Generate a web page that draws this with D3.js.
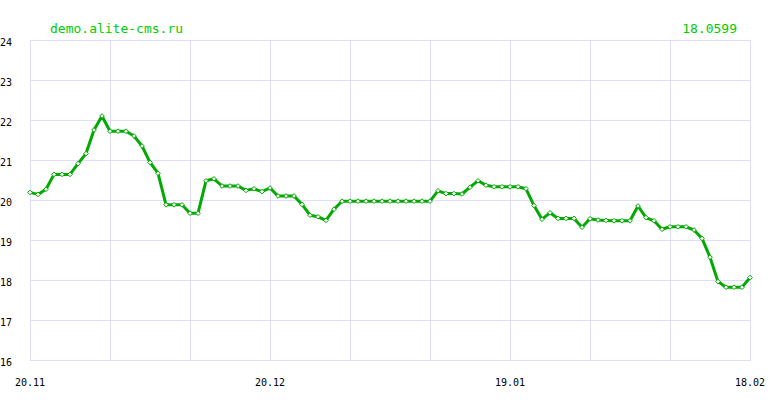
<!DOCTYPE html>
<html>
<head>
<meta charset="utf-8">
<script src="https://cdn.jsdelivr.net/npm/d3@7/dist/d3.min.js"></script>
<style>
    body { margin: 0; background: #fff; }
    svg text { font-family: "DejaVu Sans Mono", monospace; }
    .grid line { stroke: #e0dcff; stroke-width: 1; shape-rendering: crispEdges; }
    .axis text { fill: #000; font-size: 10px; }
    .title { fill: #00cc00; font-size: 13px; }
</style>
</head>
<body>
<div id="chart"></div>
<script>

var siteName = "demo.alite-cms.ru";
var lastValue = "18.0599";

// 20.11 .. 18.02, one point per day
var startDate = new Date(2023, 10, 20);
var values = [
    20.19, 20.14, 20.27, 20.64, 20.64, 20.64, 20.91, 21.16, 21.75, 22.10,
    21.72, 21.72, 21.72, 21.60, 21.35, 20.94, 20.67, 19.88, 19.88, 19.88,
    19.67, 19.67, 20.48, 20.53, 20.35, 20.35, 20.35, 20.24, 20.28, 20.21,
    20.30, 20.10, 20.10, 20.10, 19.89, 19.62, 19.58, 19.49, 19.77, 19.97,
    19.97, 19.97, 19.97, 19.97, 19.97, 19.97, 19.97, 19.97, 19.97, 19.97,
    19.97, 20.23, 20.16, 20.16, 20.15, 20.32, 20.48, 20.37, 20.33, 20.33,
    20.33, 20.33, 20.28, 19.86, 19.52, 19.68, 19.54, 19.54, 19.54, 19.32,
    19.53, 19.50, 19.49, 19.48, 19.48, 19.48, 19.85, 19.56, 19.48, 19.27,
    19.33, 19.33, 19.33, 19.25, 19.04, 18.57, 17.96, 17.82, 17.82, 17.82,
    18.06
];
var yTicks = [16, 17, 18, 19, 20, 21, 22, 23, 24];
var xLabels = ["20.11", "20.12", "19.01", "18.02"];

var width = 780, height = 400;
var margin = {top: 40, right: 30, bottom: 40, left: 30};

var data = values.map(function(v, i) {
    var d = new Date(startDate);
    d.setDate(d.getDate() + i);
    return {x: d, y: v};
});

var x = d3.scaleTime()
    .domain(d3.extent(data, function(d) { return d.x; }))
    .range([margin.left, width - margin.right]);

var y = d3.scaleLinear()
    .domain([16, 24])
    .range([height - margin.bottom, margin.top]);

var svg = d3.select("#chart").append("svg")
    .attr("width", width)
    .attr("height", height);

// grid: vertical line every 10 days
var gridDays = d3.range(0, values.length, 10).map(function(i) { return data[i].x; });

var grid = svg.append("g").attr("class", "grid");
grid.selectAll("line.v")
    .data(gridDays)
    .enter().append("line")
    .attr("class", "v")
    .attr("x1", function(d) { return Math.round(x(d)) + 0.5; })
    .attr("x2", function(d) { return Math.round(x(d)) + 0.5; })
    .attr("y1", y(24))
    .attr("y2", y(16));

grid.selectAll("line.h")
    .data(yTicks)
    .enter().append("line")
    .attr("class", "h")
    .attr("x1", x.range()[0])
    .attr("x2", x.range()[1] + 1)
    .attr("y1", function(d) { return y(d) + 0.5; })
    .attr("y2", function(d) { return y(d) + 0.5; });

// y labels
var axis = svg.append("g").attr("class", "axis");
axis.selectAll("text.y")
    .data(yTicks)
    .enter().append("text")
    .attr("class", "y")
    .attr("x", 0)
    .attr("y", function(d) { return y(d) + 6; })
    .text(function(d) { return d; });

// x labels, every 30 days
axis.selectAll("text.x")
    .data(xLabels)
    .enter().append("text")
    .attr("class", "x")
    .attr("x", function(d, i) { return x(data[i * 30].x); })
    .attr("y", 386)
    .attr("text-anchor", "middle")
    .text(function(d) { return d; });

// the line
var line = d3.line()
    .x(function(d) { return x(d.x); })
    .y(function(d) { return y(d.y); });

svg.append("path")
    .datum(data)
    .attr("fill", "none")
    .attr("stroke", "#00aa00")
    .attr("stroke-width", 3)
    .attr("stroke-linejoin", "round")
    .attr("d", line);

// diamond markers
var diamond = d3.symbol().type(d3.symbolDiamond2).size(14);
svg.selectAll(".dot")
    .data(data)
    .enter().append("path")
    .attr("class", "dot")
    .attr("d", diamond)
    .attr("transform", function(d) { return "translate(" + x(d.x) + "," + y(d.y) + ")"; })
    .attr("fill", "#fff")
    .attr("stroke", "#00aa00")
    .attr("stroke-width", 1);

// titles
svg.append("text")
    .attr("class", "title")
    .attr("x", 50)
    .attr("y", 33)
    .text(siteName);

svg.append("text")
    .attr("class", "title")
    .attr("x", 737)
    .attr("y", 33)
    .attr("text-anchor", "end")
    .text(lastValue);

</script>
</body>
</html>
